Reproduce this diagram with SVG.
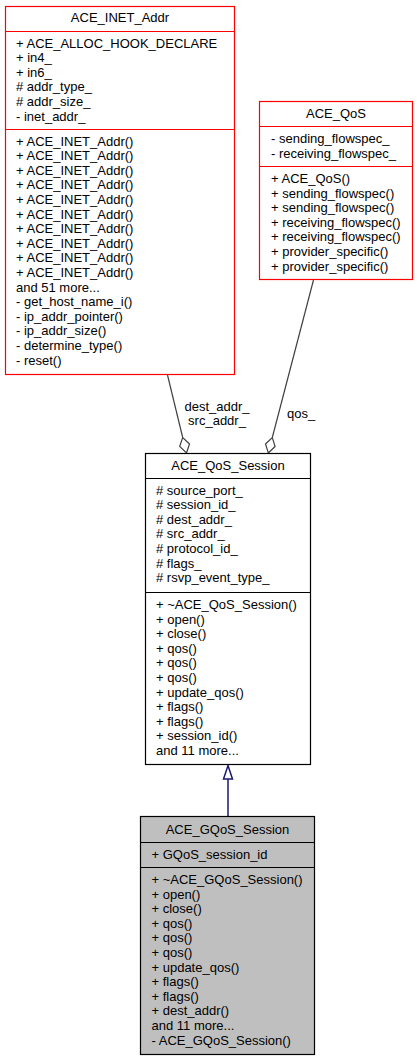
<svg xmlns="http://www.w3.org/2000/svg" width="417" height="1061" viewBox="0 0 417 1061">
<style>
text{font-family:"Liberation Sans",Arial,Helvetica,sans-serif;font-size:13px;fill:#000}
.t{text-anchor:middle}
.red{fill:#fff;stroke:#ff0000;stroke-width:1.2}
.redl{stroke:#ff0000;stroke-width:1.2}
.blk{fill:#fff;stroke:#000;stroke-width:1.2}
.blkl{stroke:#000;stroke-width:1.2}
.gry{fill:#bfbfbf;stroke:#000;stroke-width:1.2}
.edge{stroke:#404040;stroke-width:1.2;fill:none}
.dia{fill:#fff;stroke:#404040;stroke-width:1.2}
.inh{stroke:#191970;stroke-width:1.5;fill:none}
.tri{fill:#fff;stroke:#191970;stroke-width:1.5}
</style>
<rect width="417" height="1061" fill="#fff"/>
<g id="connectors">
<path class="edge" d="M167.5,375 L182.7,437.5"/>
<polygon class="dia" points="186.5,453 189.5,444 182.7,437.5 179.7,446.4"/>
<text class="t" x="217" y="411">dest_addr_</text>
<text class="t" x="217" y="425">src_addr_</text>
<path class="edge" d="M313.5,280 L272.3,437.5"/>
<polygon class="dia" points="268.3,453 275.1,446.5 272.3,437.5 265.5,444"/>
<text x="287" y="418">qos_</text>
<path class="inh" d="M228,816.5 L228,779"/>
<polygon class="tri" points="228,765.5 232.5,779 223.5,779"/>
</g>
<g id="ACE_INET_Addr">
<rect class="red" x="5.5" y="6.5" width="229" height="368"/>
<line class="redl" x1="5.5" y1="31.5" x2="234.5" y2="31.5"/>
<line class="redl" x1="5.5" y1="129.5" x2="234.5" y2="129.5"/>
<text class="t" x="120" y="22">ACE_INET_Addr</text>
<text x="16" y="47.5"><tspan x="16">+ ACE_ALLOC_HOOK_DECLARE</tspan><tspan x="16" dy="14.6">+ in4_</tspan><tspan x="16" dy="14.6">+ in6_</tspan><tspan x="16" dy="14.6"># addr_type_</tspan><tspan x="16" dy="14.6"># addr_size_</tspan><tspan x="16" dy="14.6">- inet_addr_</tspan></text>
<text x="16" y="145.5"><tspan x="16">+ ACE_INET_Addr()</tspan><tspan x="16" dy="14.6">+ ACE_INET_Addr()</tspan><tspan x="16" dy="14.6">+ ACE_INET_Addr()</tspan><tspan x="16" dy="14.6">+ ACE_INET_Addr()</tspan><tspan x="16" dy="14.6">+ ACE_INET_Addr()</tspan><tspan x="16" dy="14.6">+ ACE_INET_Addr()</tspan><tspan x="16" dy="14.6">+ ACE_INET_Addr()</tspan><tspan x="16" dy="14.6">+ ACE_INET_Addr()</tspan><tspan x="16" dy="14.6">+ ACE_INET_Addr()</tspan><tspan x="16" dy="14.6">+ ACE_INET_Addr()</tspan><tspan x="16" dy="14.6">and 51 more...</tspan><tspan x="16" dy="14.6">- get_host_name_i()</tspan><tspan x="16" dy="14.6">- ip_addr_pointer()</tspan><tspan x="16" dy="14.6">- ip_addr_size()</tspan><tspan x="16" dy="14.6">- determine_type()</tspan><tspan x="16" dy="14.6">- reset()</tspan></text>
</g>
<g id="ACE_QoS">
<rect class="red" x="259.5" y="101.5" width="153" height="178"/>
<line class="redl" x1="259.5" y1="126.5" x2="412.5" y2="126.5"/>
<line class="redl" x1="259.5" y1="166.5" x2="412.5" y2="166.5"/>
<text class="t" x="336" y="118">ACE_QoS</text>
<text x="271" y="143"><tspan x="271">- sending_flowspec_</tspan><tspan x="271" dy="14.6">- receiving_flowspec_</tspan></text>
<text x="271" y="183"><tspan x="271">+ ACE_QoS()</tspan><tspan x="271" dy="14.6">+ sending_flowspec()</tspan><tspan x="271" dy="14.6">+ sending_flowspec()</tspan><tspan x="271" dy="14.6">+ receiving_flowspec()</tspan><tspan x="271" dy="14.6">+ receiving_flowspec()</tspan><tspan x="271" dy="14.6">+ provider_specific()</tspan><tspan x="271" dy="14.6">+ provider_specific()</tspan></text>
</g>
<g id="ACE_QoS_Session">
<rect class="blk" x="145.5" y="453.5" width="165" height="311"/>
<line class="blkl" x1="145.5" y1="478.5" x2="310.5" y2="478.5"/>
<line class="blkl" x1="145.5" y1="592.5" x2="310.5" y2="592.5"/>
<text class="t" x="228" y="470">ACE_QoS_Session</text>
<text x="156" y="494.5"><tspan x="156"># source_port_</tspan><tspan x="156" dy="14.6"># session_id_</tspan><tspan x="156" dy="14.6"># dest_addr_</tspan><tspan x="156" dy="14.6"># src_addr_</tspan><tspan x="156" dy="14.6"># protocol_id_</tspan><tspan x="156" dy="14.6"># flags_</tspan><tspan x="156" dy="14.6"># rsvp_event_type_</tspan></text>
<text x="156" y="609"><tspan x="156">+ ~ACE_QoS_Session()</tspan><tspan x="156" dy="14.6">+ open()</tspan><tspan x="156" dy="14.6">+ close()</tspan><tspan x="156" dy="14.6">+ qos()</tspan><tspan x="156" dy="14.6">+ qos()</tspan><tspan x="156" dy="14.6">+ qos()</tspan><tspan x="156" dy="14.6">+ update_qos()</tspan><tspan x="156" dy="14.6">+ flags()</tspan><tspan x="156" dy="14.6">+ flags()</tspan><tspan x="156" dy="14.6">+ session_id()</tspan><tspan x="156" dy="14.6">and 11 more...</tspan></text>
</g>
<g id="ACE_GQoS_Session">
<rect class="gry" x="140.5" y="816.5" width="174" height="238"/>
<line class="blkl" x1="140.5" y1="842.5" x2="314.5" y2="842.5"/>
<line class="blkl" x1="140.5" y1="867.5" x2="314.5" y2="867.5"/>
<text class="t" x="227.5" y="833.5">ACE_GQoS_Session</text>
<text x="151.5" y="858.5">+ GQoS_session_id</text>
<text x="151.5" y="884"><tspan x="151.5">+ ~ACE_GQoS_Session()</tspan><tspan x="151.5" dy="14.6">+ open()</tspan><tspan x="151.5" dy="14.6">+ close()</tspan><tspan x="151.5" dy="14.6">+ qos()</tspan><tspan x="151.5" dy="14.6">+ qos()</tspan><tspan x="151.5" dy="14.6">+ qos()</tspan><tspan x="151.5" dy="14.6">+ update_qos()</tspan><tspan x="151.5" dy="14.6">+ flags()</tspan><tspan x="151.5" dy="14.6">+ flags()</tspan><tspan x="151.5" dy="14.6">+ dest_addr()</tspan><tspan x="151.5" dy="14.6">and 11 more...</tspan><tspan x="151.5" dy="14.6">- ACE_GQoS_Session()</tspan></text>
</g>
</svg>
